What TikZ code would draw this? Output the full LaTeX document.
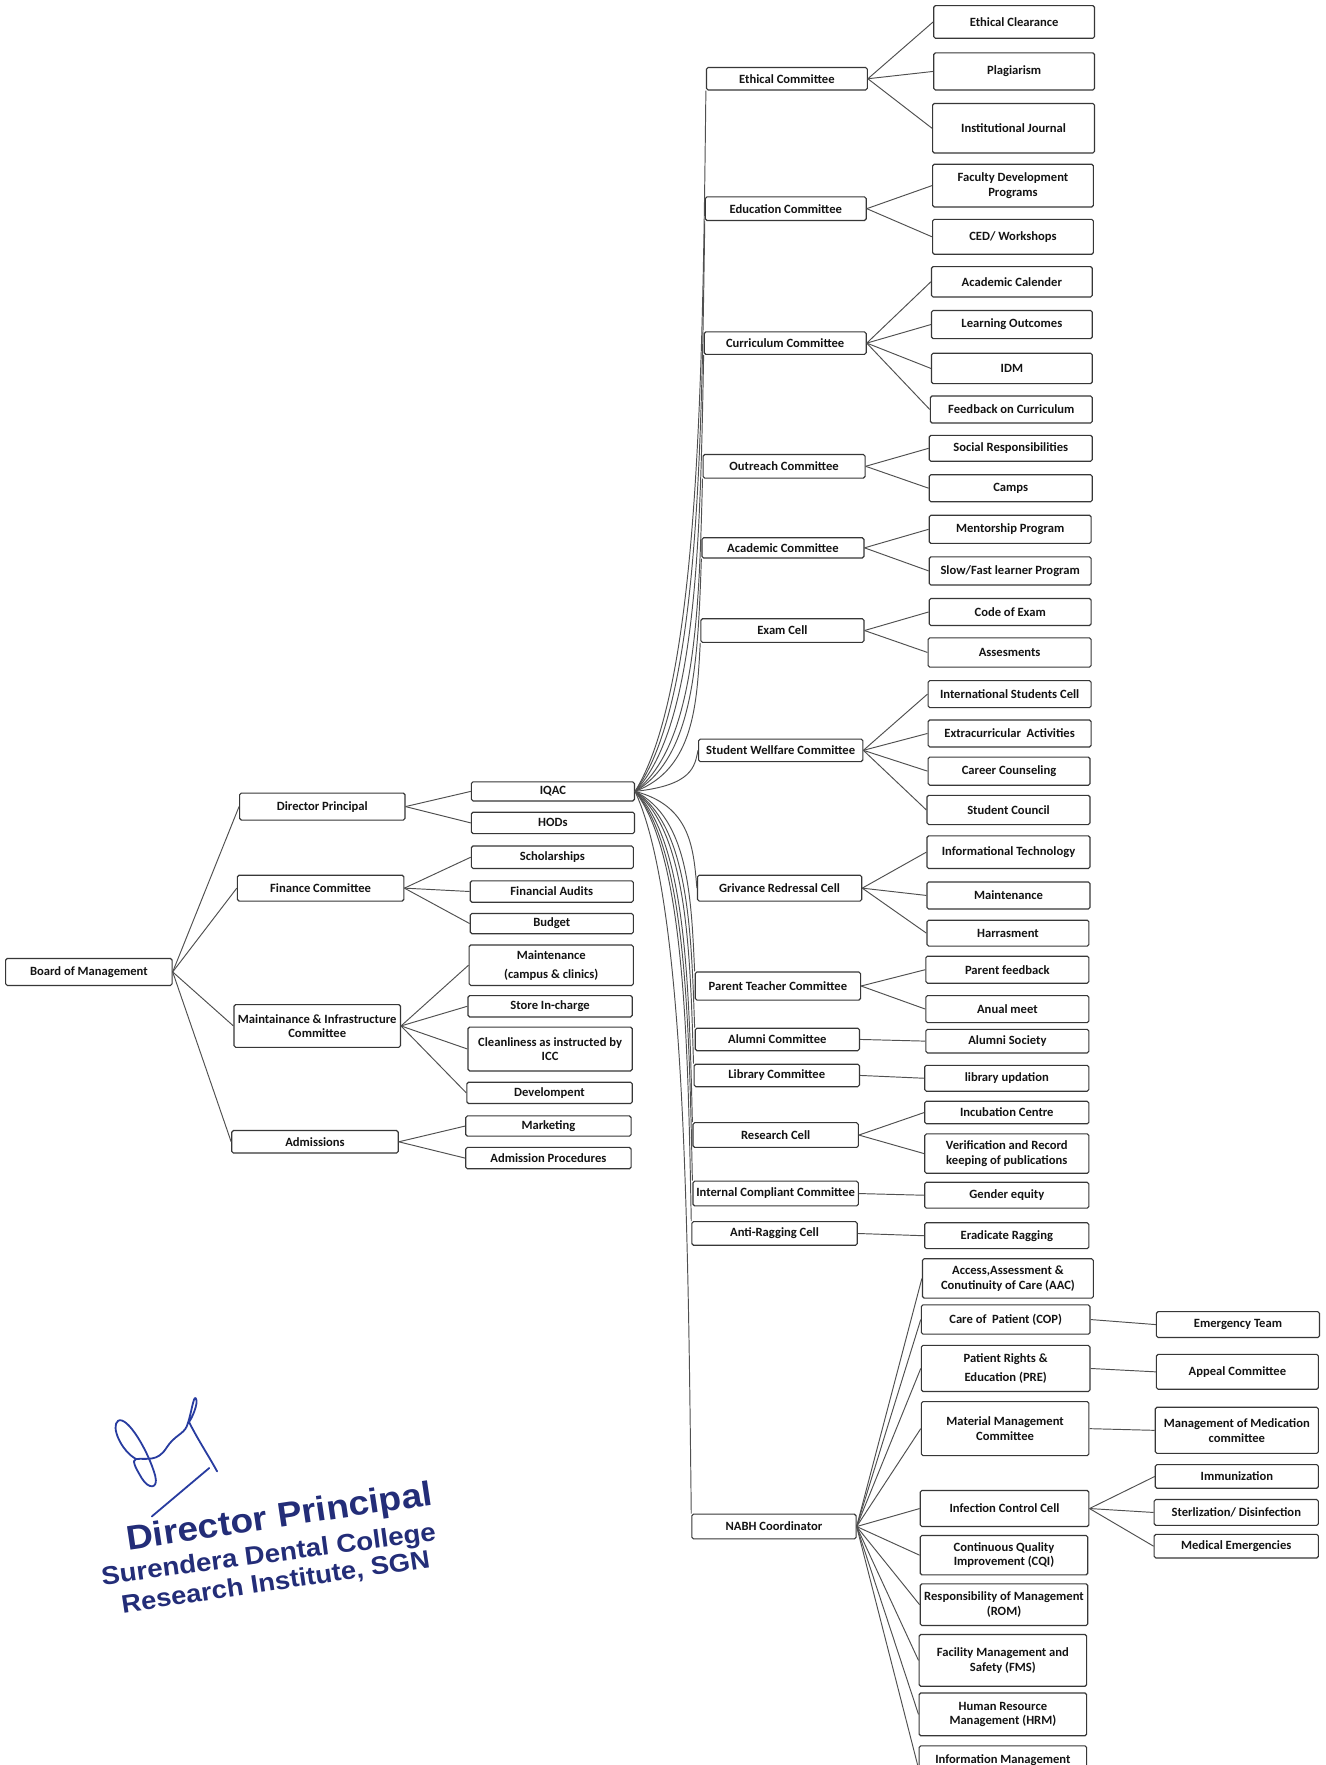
\documentclass[tikz,border=0pt]{standalone}
\usepackage{fontspec}
\setmainfont{Carlito}
\newfontfamily\stampfont{Liberation Sans}[FakeStretch=1.08]
\usetikzlibrary{calc}
\definecolor{boxline}{RGB}{55,55,55}
\definecolor{conn}{RGB}{80,80,80}
\definecolor{txt}{RGB}{20,20,20}
\definecolor{stampblue}{RGB}{35,45,120}
\definecolor{inkblue}{RGB}{40,60,160}
\tikzset{
 bx/.style={draw=boxline, line width=1pt, rounded corners=1.5pt, fill=white, inner sep=1pt, align=center, font=\fontsize{11.2}{13}\selectfont\bfseries, text=txt},
 cn/.style={draw=conn, line width=0.85pt},
 stamp/.style={text=stampblue, rotate=8.5, anchor=base west, inner sep=0pt},
 sig/.style={draw=inkblue, line width=1.6pt, line cap=round, line join=round}
}
\newcommand{\bx}[6]{\node[bx, minimum width={(#4-#2)*1pt}, minimum height={(#5-#3)*1pt}] (#1) at ({(#2+#4)/2},{(#3+#5)/2}) {#6};}
\newcommand{\fan}[2]{\draw[cn] let \p1=(#1), \p2=(#2) in (\p1) .. controls (\x2-5pt, {\y1+0.15*(\y2-\y1)}) and (\x2-3pt, {\y2-0.4*(\y2-\y1)}) .. (\p2);}
\begin{document}
\begin{tikzpicture}[x=1pt,y=-1pt]
\useasboundingbox[fill=white] (0,0) rectangle (1178,1569);
% left
\bx{bom}{5}{852}{153}{876}{Board of Management}
\bx{dp}{213}{705}{360}{729}{Director Principal}
\bx{fc}{211}{778}{359}{801}{Finance Committee}
\bx{mic}{208}{893}{356}{931}{Maintainance \& Infrastructure\\Committee}
\bx{adm}{206}{1005}{354}{1025}{Admissions}
% third column
\bx{iqac}{419}{695}{564}{712}{IQAC}
\bx{hod}{419}{722}{564}{741}{HODs}
\bx{sch}{419}{752}{563}{772}{Scholarships}
\bx{fa}{418}{783}{563}{802}{Financial Audits}
\bx{bud}{418}{812}{563}{830}{Budget}
\bx{mcc}{417}{840}{563}{876}{Maintenance\\[4pt](campus \& clinics)}
\bx{sic}{416}{885}{562}{904}{Store In-charge}
\bx{cl}{416}{913}{562}{952}{Cleanliness as instructed by\\ICC}
\bx{dev}{415}{962}{562}{981}{Develompent}
\bx{mkt}{414}{992}{561}{1010}{Marketing}
\bx{ap}{414}{1020}{561}{1039}{Admission Procedures}
% committees
\bx{ec}{628}{60}{771}{80}{Ethical Committee}
\bx{edc}{627}{175}{770}{196}{Education Committee}
\bx{cc}{626}{295}{770}{315}{Curriculum Committee}
\bx{oc}{625}{404}{769}{425}{Outreach Committee}
\bx{acc}{624}{478}{768}{496}{Academic Committee}
\bx{exc}{623}{550}{768}{571}{Exam Cell}
\bx{swc}{621}{657}{767}{677}{Student Wellfare Committee}
\bx{grc}{620}{778}{766}{801}{Grivance Redressal Cell}
\bx{ptc}{618}{864}{765}{889}{Parent Teacher Committee}
\bx{alc}{618}{914}{764}{934}{Alumni Committee}
\bx{lic}{617}{946}{764}{966}{Library Committee}
\bx{rc}{616}{998}{763}{1020}{Research Cell}
\bx{icc}{616}{1050}{763}{1072}{Internal Compliant Committee}
\bx{arc}{615}{1086}{762}{1107}{Anti-Ragging Cell}
\bx{nabh}{615}{1346}{761}{1368}{NABH Coordinator}
% sub items
\bx{s1}{830}{5}{973}{34}{Ethical Clearance}
\bx{s2}{830}{47}{973}{80}{Plagiarism}
\bx{s3}{829}{92}{973}{136}{Institutional Journal}
\bx{s4}{829}{146}{972}{184}{Faculty Development\\Programs}
\bx{s5}{829}{195}{972}{226}{CED/ Workshops}
\bx{s6}{828}{237}{971}{264}{Academic Calender}
\bx{s7}{828}{276}{971}{301}{Learning Outcomes}
\bx{s8}{828}{314}{971}{341}{IDM}
\bx{s9}{827}{352}{971}{376}{Feedback on Curriculum}
\bx{s10}{826}{387}{971}{410}{Social Responsibilities}
\bx{s11}{826}{422}{971}{446}{Camps}
\bx{s12}{826}{458}{970}{483}{Mentorship Program}
\bx{s13}{826}{495}{970}{520}{Slow/Fast learner Program}
\bx{s14}{826}{532}{970}{556}{Code of Exam}
\bx{s15}{825}{567}{970}{593}{Assesments}
\bx{s16}{825}{605}{970}{629}{International Students Cell}
\bx{s17}{825}{640}{970}{664}{Extracurricular\ \ Activities}
\bx{s18}{825}{673}{969}{698}{Career Counseling}
\bx{s19}{824}{707}{969}{733}{Student Council}
\bx{s20}{824}{743}{969}{772}{Informational Technology}
\bx{s21}{824}{784}{969}{808}{Maintenance}
\bx{s22}{824}{818}{968}{841}{Harrasment}
\bx{s23}{823}{850}{968}{874}{Parent feedback}
\bx{s24}{823}{885}{968}{909}{Anual meet}
\bx{s25}{823}{915}{968}{936}{Alumni Society}
\bx{s26}{822}{947}{968}{970}{library updation}
\bx{s27}{822}{979}{968}{999}{Incubation Centre}
\bx{s28}{822}{1008}{968}{1043}{Verification and Record\\keeping of publications}
\bx{s29}{822}{1051}{968}{1074}{Gender equity}
\bx{s30}{822}{1087}{968}{1110}{Eradicate Ragging}
% NABH items
\bx{n1}{820}{1119}{972}{1154}{Access,Assessment \&\\Conutinuity of Care (AAC)}
\bx{n2}{819}{1160}{969}{1186}{Care of\ \ Patient (COP)}
\bx{n3}{819}{1196}{969}{1237}{Patient Rights \&\\[4pt]Education (PRE)}
\bx{n4}{819}{1246}{968}{1294}{Material Management\\Committee}
\bx{n5}{818}{1325}{968}{1357}{Infection Control Cell}
\bx{n6}{818}{1365}{967}{1400}{Continuous Quality\\Improvement (CQI)}
\bx{n7}{818}{1408}{967}{1445}{Responsibility of Management\\(ROM)}
\bx{n8}{817}{1453}{966}{1499}{Facility Management and\\Safety (FMS)}
\bx{n9}{817}{1505}{966}{1543}{Human Resource\\Management (HRM)}
\bx{n10}{817}{1552}{966}{1592}{Information Management\\\strut}
% far right
\bx{m1}{1028}{1166}{1173}{1189}{Emergency Team}
\bx{m2}{1028}{1204}{1172}{1235}{Appeal Committee}
\bx{m3}{1027}{1251}{1172}{1292}{Management of Medication\\committee}
\bx{m4}{1027}{1302}{1172}{1323}{Immunization}
\bx{m5}{1026}{1333}{1172}{1356}{Sterlization/ Disinfection}
\bx{m6}{1026}{1364}{1172}{1385}{Medical Emergencies}
% connectors left
\foreach \t in {dp,fc,mic,adm} \draw[cn] (bom.east) -- (\t.west);
\foreach \t in {iqac,hod} \draw[cn] (dp.east) -- (\t.west);
\foreach \t in {sch,fa,bud} \draw[cn] (fc.east) -- (\t.west);
\foreach \t in {mcc,sic,cl,dev} \draw[cn] (mic.east) -- (\t.west);
\foreach \t in {mkt,ap} \draw[cn] (adm.east) -- (\t.west);
% fan from IQAC
\foreach \t in {ec,edc,cc,oc,acc,exc} {\fan{iqac.east}{\t.south west}}
\foreach \t in {swc,grc} {\fan{iqac.east}{\t.west}}
\foreach \t in {ptc,alc,lic,rc,icc,arc,nabh} {\fan{iqac.east}{\t.north west}}
% committees to items
\foreach \t in {s1,s2,s3} \draw[cn] (ec.east) -- (\t.west);
\foreach \t in {s4,s5} \draw[cn] (edc.east) -- (\t.west);
\foreach \t in {s6,s7,s8,s9} \draw[cn] (cc.east) -- (\t.west);
\foreach \t in {s10,s11} \draw[cn] (oc.east) -- (\t.west);
\foreach \t in {s12,s13} \draw[cn] (acc.east) -- (\t.west);
\foreach \t in {s14,s15} \draw[cn] (exc.east) -- (\t.west);
\foreach \t in {s16,s17,s18,s19} \draw[cn] (swc.east) -- (\t.west);
\foreach \t in {s20,s21,s22} \draw[cn] (grc.east) -- (\t.west);
\foreach \t in {s23,s24} \draw[cn] (ptc.east) -- (\t.west);
\draw[cn] (alc.east) -- (s25.west);
\draw[cn] (lic.east) -- (s26.west);
\foreach \t in {s27,s28} \draw[cn] (rc.east) -- (\t.west);
\draw[cn] (icc.east) -- (s29.west);
\draw[cn] (arc.east) -- (s30.west);
\foreach \t in {n1,n2,n3,n4,n5,n6,n7,n8,n9,n10} \draw[cn] (nabh.east) -- (\t.west);
\draw[cn] (n2.east) -- (m1.west);
\draw[cn] (n3.east) -- (m2.west);
\draw[cn] (n4.east) -- (m3.west);
\foreach \t in {m4,m5,m6} \draw[cn] (n5.east) -- (\t.west);
% signature
\draw[sig] (121,1297) .. controls (108,1290) and (98,1268) .. (105,1263) .. controls (113,1258) and (132,1290) .. (138,1312) .. controls (141,1324) and (132,1324) .. (126,1314) .. controls (120,1304) and (117,1298) .. (121,1297) .. controls (130,1296) and (140,1300) .. (148,1287) .. controls (155,1276) and (163,1275) .. (166,1268) .. controls (170,1258) and (172,1240) .. (174,1243) .. controls (177,1247) and (170,1262) .. (168,1264) .. controls (176,1280) and (186,1295) .. (193,1308);
\draw[sig] (135,1348) -- (186,1305);
% stamp
\node[stamp, font=\stampfont\bfseries\fontsize{30.5}{30}\selectfont] (st1) at (114,1378) {Director Principal};
\node[stamp, rotate=-0.9, font=\stampfont\bfseries\fontsize{22.8}{24}\selectfont] (st2) at (91,1409) {Surendera Dental College};
\node[stamp, font=\stampfont\bfseries\fontsize{22.5}{24}\selectfont] (st3) at (109,1434) {Research Institute, SGN};
\end{tikzpicture}
\end{document}
